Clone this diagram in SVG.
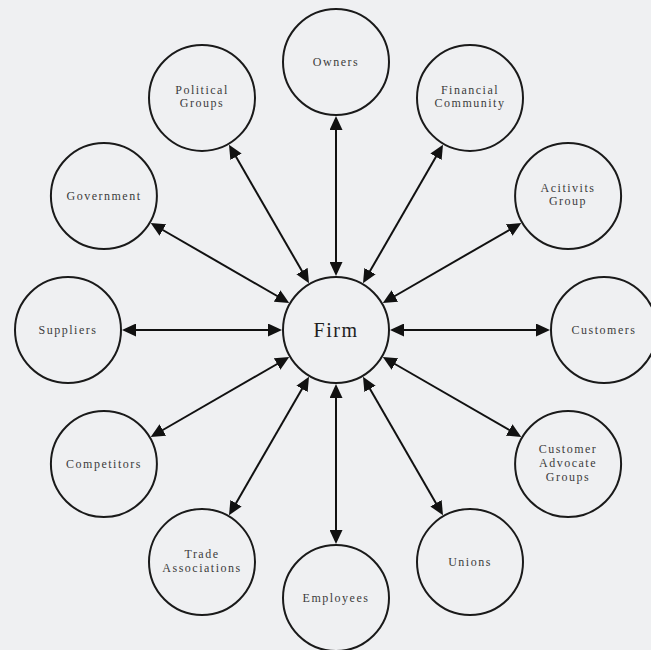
<svg xmlns="http://www.w3.org/2000/svg" width="651" height="650" viewBox="0 0 651 650">
  <style>
    .node circle { fill: none; stroke: #1a1a1a; stroke-width: 2; }
    .node text { font-family: "Liberation Serif", "Times New Roman", serif; font-size: 12px; letter-spacing: 1.5px; fill: #3c3c3c; text-anchor: middle; }
    #firm text { font-size: 20px; letter-spacing: 1.5px; fill: #1e1e1e; }
    .link { stroke: #111; stroke-width: 2; fill: none; marker-start: url(#head); marker-end: url(#head); }
  </style>
  <defs>
    <marker id="head" viewBox="0 0 14 13" markerUnits="userSpaceOnUse" markerWidth="14" markerHeight="13" refX="6" refY="6.5" orient="auto-start-reverse">
      <path d="M0,0 L14,6.5 L0,13 z" fill="#111"/>
    </marker>
  </defs>

  <rect width="651" height="650" fill="#eff0f2"/>

  <!-- connectors: firm at (336,330), stakeholders on a ring of radius 268 -->
  <g id="connectors">
    <line class="link" x1="336" y1="268" x2="336" y2="124"/>
    <line class="link" x1="367" y1="276.3" x2="439" y2="151.6"/>
    <line class="link" x1="389.7" y1="299" x2="514.4" y2="227"/>
    <line class="link" x1="398" y1="330" x2="542" y2="330"/>
    <line class="link" x1="389.7" y1="361" x2="514.4" y2="433"/>
    <line class="link" x1="367" y1="383.7" x2="439" y2="508.4"/>
    <line class="link" x1="336" y1="392" x2="336" y2="536"/>
    <line class="link" x1="305" y1="383.7" x2="233" y2="508.4"/>
    <line class="link" x1="282.3" y1="361" x2="157.6" y2="433"/>
    <line class="link" x1="274" y1="330" x2="130" y2="330"/>
    <line class="link" x1="282.3" y1="299" x2="157.6" y2="227"/>
    <line class="link" x1="305" y1="276.3" x2="233" y2="151.6"/>
  </g>

  <g id="firm" class="node">
    <circle cx="336" cy="330" r="53"/>
    <text x="336" y="337">Firm</text>
  </g>

  <g id="owners" class="node">
    <circle cx="336" cy="62" r="53"/>
    <text x="336" y="66">Owners</text>
  </g>

  <g id="financial-community" class="node">
    <circle cx="470" cy="97.9" r="53"/>
    <text x="470" y="94">Financial</text>
    <text x="470" y="107">Community</text>
  </g>

  <g id="activist-group" class="node">
    <circle cx="568.1" cy="196" r="53"/>
    <text x="568" y="192">Acitivits</text>
    <text x="568" y="205">Group</text>
  </g>

  <g id="customers" class="node">
    <circle cx="604" cy="330" r="53"/>
    <text x="604" y="334">Customers</text>
  </g>

  <g id="customer-advocate-groups" class="node">
    <circle cx="568.1" cy="464" r="53"/>
    <text x="568" y="453">Customer</text>
    <text x="568" y="467">Advocate</text>
    <text x="568" y="481">Groups</text>
  </g>

  <g id="unions" class="node">
    <circle cx="470" cy="562.1" r="53"/>
    <text x="470" y="566">Unions</text>
  </g>

  <g id="employees" class="node">
    <circle cx="336" cy="598" r="53"/>
    <text x="336" y="602">Employees</text>
  </g>

  <g id="trade-associations" class="node">
    <circle cx="202" cy="562.1" r="53"/>
    <text x="202" y="558">Trade</text>
    <text x="202" y="572">Associations</text>
  </g>

  <g id="competitors" class="node">
    <circle cx="103.9" cy="464" r="53"/>
    <text x="104" y="468">Competitors</text>
  </g>

  <g id="suppliers" class="node">
    <circle cx="68" cy="330" r="53"/>
    <text x="68" y="334">Suppliers</text>
  </g>

  <g id="government" class="node">
    <circle cx="103.9" cy="196" r="53"/>
    <text x="104" y="200">Government</text>
  </g>

  <g id="political-groups" class="node">
    <circle cx="202" cy="97.9" r="53"/>
    <text x="202" y="94">Political</text>
    <text x="202" y="107">Groups</text>
  </g>
</svg>
